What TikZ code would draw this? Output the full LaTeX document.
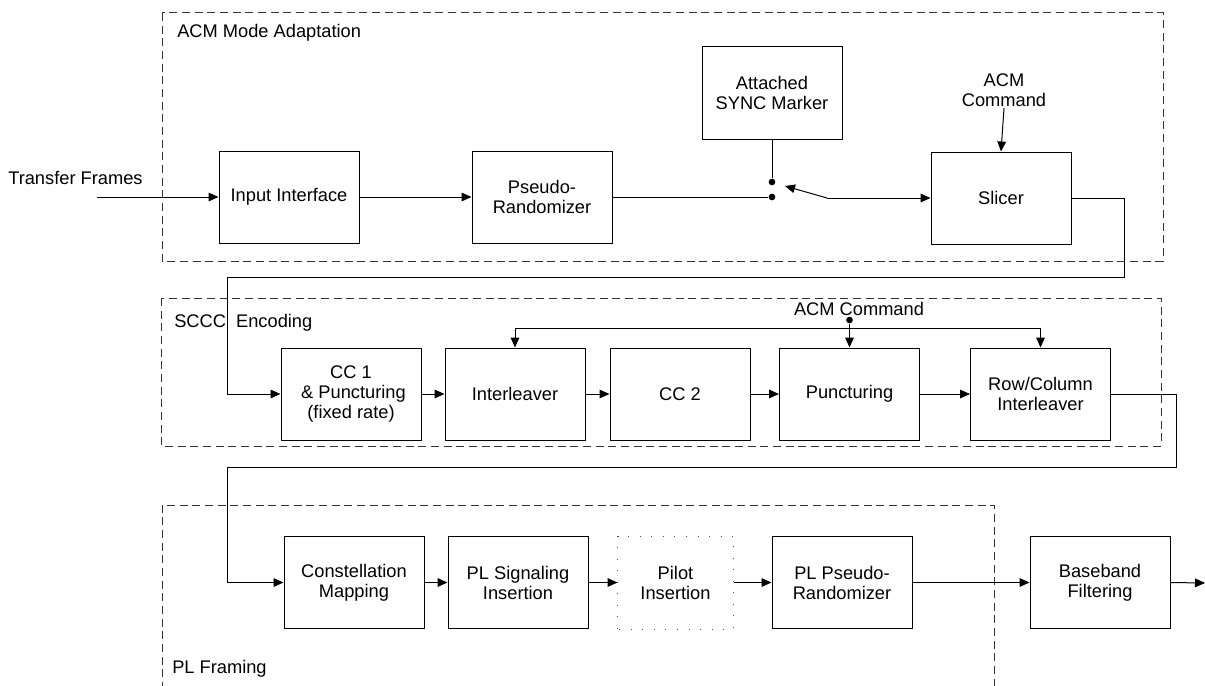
\documentclass[tikz,border=0pt]{standalone}
\usepackage{fontspec}
\setmainfont{Liberation Sans}
\usetikzlibrary{arrows.meta}
\begin{document}
\begin{tikzpicture}[x=0.75pt,y=-0.75pt,
  font=\fontsize{13.7}{15}\selectfont,
  blk/.style={draw, line width=0.75pt, inner sep=0pt, minimum width=105pt, minimum height=69pt, align=center},
  grp/.style={draw=black!80, line width=0.75pt, dash pattern=on 6pt off 3.5pt},
  conn/.style={line width=0.75pt},
  arr/.style={conn, -{Triangle[length=7.5pt,width=6.5pt]}},
  lbl/.style={inner sep=0pt, anchor=west},
  jdot/.style={circle, fill, inner sep=0pt, minimum size=5pt},
]
\useasboundingbox (0,0) rectangle (1205,685);

% group frames
\draw[grp] (162,13) rectangle (1163,261);
\draw[grp] (161,298) rectangle (1161,446);
\draw[grp] (162,690) -- (162,505) -- (994,505) -- (994,690);

\node[lbl] (tACM) at (177,33) {ACM Mode Adaptation};
\node[lbl] (tSCCC) at (174,323) {SCCC\ \ Encoding};
\node[lbl] (tPL) at (172,669) {PL Framing};
\node[lbl] (tTF) at (8,178) {Transfer Frames};

% row 1
\node[blk] (inif) at (289,197) {Input Interface};
\node[blk] (prand) at (542,197) {Pseudo-\\Randomizer};
\node[blk] (sync) at (772,93) {Attached\\SYNC Marker};
\node[blk] (slicer) at (1001,198) {Slicer};
\node[inner sep=1pt, align=center] (acm1) at (1004,90) {ACM\\Command};
\node[jdot] (sw1) at (772,182) {};
\node[jdot] (sw2) at (772,197) {};
\coordinate (swk) at (827,198);
\coordinate (swtip) at (785,186);
\coordinate (in) at (97,197);

% row 2
\node[blk] (cc1) at (351,394) {CC 1\\\ \& Puncturing\\(fixed rate)};
\node[blk] (intl) at (515,394) {Interleaver};
\node[blk] (cc2) at (680,394) {CC 2};
\node[blk] (punc) at (849.5,394) {Puncturing};
\node[blk] (rc) at (1040.5,394) {Row/Column\\Interleaver};
\node[inner sep=0pt] (acm2) at (859,309) {ACM Command};
\node[jdot] (acmdot) at (849.5,320) {};
\coordinate (acmj) at (849.5,328);

% row 3
\node[blk] (cm) at (354,582.5) {Constellation\\Mapping};
\node[blk] (pls) at (518,582.5) {PL Signaling\\Insertion};
\node[blk, draw=none, minimum width=86.25pt] (pilot) at (675.5,582.5) {Pilot\\Insertion};
\draw[line width=0.75pt, dash pattern=on 0.75pt off 7.9pt, black!70] (pilot.south west) rectangle (pilot.north east);
\node[blk] (plpr) at (842,582.5) {PL Pseudo-\\Randomizer};
\node[blk] (bb) at (1100,582.5) {Baseband\\Filtering};
\coordinate (out) at (1205,583);

% loops
\coordinate (l1) at (1124,277);
\coordinate (l2) at (227,277);
\coordinate (m1) at (1176,467);
\coordinate (m2) at (227,467);

% connectors row 1
\draw[arr] (in) -- (inif.west);
\draw[arr] (inif) -- (prand);
\draw[conn] (prand.east) -- (sw2);
\draw[conn] (sync.south) -- (sw1);
\draw[arr] (swk) -- (swtip);
\draw[arr] (swk) -- (slicer.west);
\draw[arr] (acm1.south) -- (slicer.north);
\draw[arr] (slicer.east) -| (l1) -- (l2) |- (cc1.west);

% connectors row 2
\draw[arr] (cc1) -- (intl);
\draw[arr] (intl) -- (cc2);
\draw[arr] (cc2) -- (punc);
\draw[arr] (punc) -- (rc);
\draw[conn] (acmdot) -- (acmj);
\draw[arr] (acmj) -- (punc.north);
\draw[arr] (acmj) -| (intl.north);
\draw[arr] (acmj) -| (rc.north);
\draw[arr] (rc.east) -| (m1) -- (m2) |- (cm.west);

% connectors row 3
\draw[arr] (cm) -- (pls);
\draw[arr] (pls) -- (pilot);
\draw[arr] (pilot) -- (plpr);
\draw[arr] (plpr) -- (bb);
\draw[arr] (bb.east) -- (out);
\end{tikzpicture}
\end{document}
